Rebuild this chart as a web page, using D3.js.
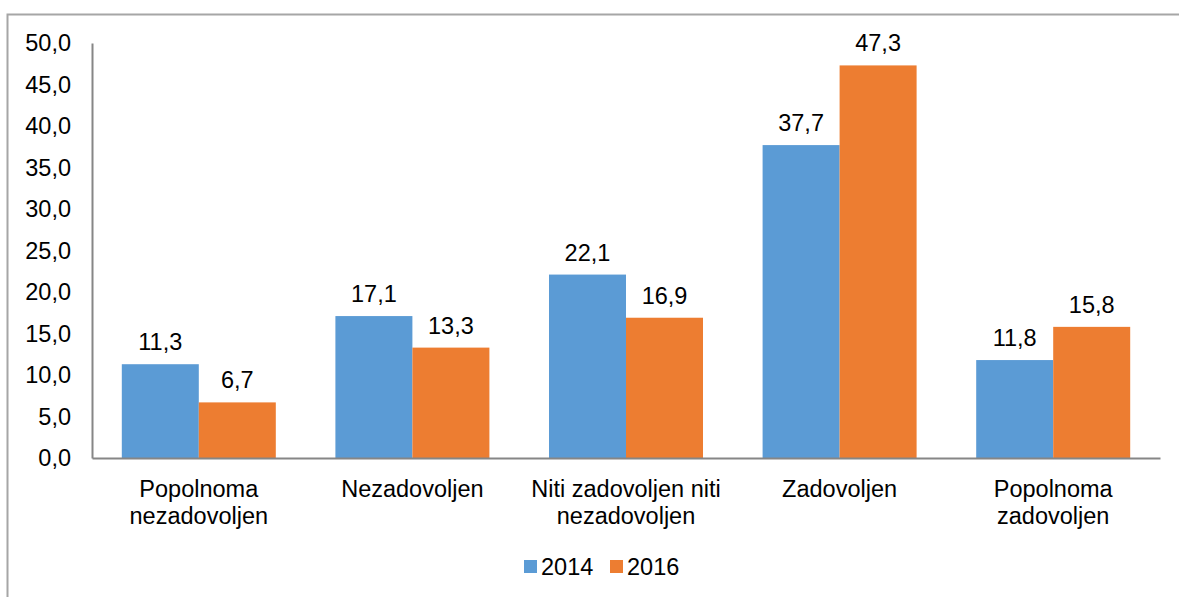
<!DOCTYPE html>
<html><head><meta charset="utf-8">
<script src="https://cdn.jsdelivr.net/npm/d3@7"></script>
<style>body{margin:0;background:#fff}svg{display:block;font-family:"Liberation Sans",Arial,sans-serif}</style>
</head><body>
<svg id="c" width="1179" height="597"></svg>
<script>
const categories = [["Popolnoma","nezadovoljen"],["Nezadovoljen"],["Niti zadovoljen niti","nezadovoljen"],["Zadovoljen"],["Popolnoma","zadovoljen"]];
const series2014 = [11.3, 17.1, 22.1, 37.7, 11.8];
const series2016 = [6.7, 13.3, 16.9, 47.3, 15.8];
const seriesNames = ["2014","2016"];
const colors = ["#5b9bd5","#ed7d31"];
const yTicks = [0,5,10,15,20,25,30,35,40,45,50];

const svg = d3.select("#c");
const fmt = v => v.toFixed(1).replace(".", ",");
const FS = 23.5;
// border
svg.append("path").attr("d","M7.5,597 L7.5,14.5 L1179,14.5").attr("fill","none").attr("stroke","#a6a6a6").attr("stroke-width",2);

const L=92, R=1160, T=43, B=458;
const x = d3.scaleBand().domain(d3.range(categories.length)).range([L,R]).paddingInner(0).paddingOuter(0);
const y = d3.scaleLinear().domain([0,50]).range([B,T]);
const inner = d3.scaleBand().domain([0,1]).range([0, x.bandwidth()]).paddingOuter(0.387).paddingInner(0);

const data = [series2014, series2016];
data.forEach((s,si)=>{
  svg.append("g").selectAll("rect").data(s).join("rect")
    .attr("x",(d,i)=>x(i)+inner(si)).attr("width",inner.bandwidth())
    .attr("y",d=>y(d)).attr("height",d=>y(0)-y(d)).attr("fill",colors[si]);
  svg.append("g").selectAll("text").data(s).join("text")
    .attr("x",(d,i)=>x(i)+inner(si)+inner.bandwidth()/2).attr("y",d=>y(d)-14)
    .attr("text-anchor","middle").attr("font-size",FS).attr("fill","#000").text(fmt);
});

// y axis
const yAxis = svg.append("g").attr("transform",`translate(${L},0)`).call(d3.axisLeft(y).tickValues(yTicks).tickFormat(fmt).tickSize(0).tickPadding(21));
yAxis.select(".domain").attr("stroke","#868686").attr("stroke-width",2);
yAxis.selectAll("text").attr("font-size",FS).attr("fill","#000").attr("font-family","Liberation Sans, Arial, sans-serif");

// x axis
const xAxis = svg.append("g").attr("transform",`translate(0,${B})`).call(d3.axisBottom(x).tickSize(0).tickFormat(""));
xAxis.select(".domain").attr("stroke","#868686").attr("stroke-width",2);
categories.forEach((lines,i)=>{
  const t = svg.append("text").attr("x",x(i)+x.bandwidth()/2).attr("y",497).attr("text-anchor","middle").attr("font-size",FS).attr("fill","#000");
  lines.forEach((ln,j)=>t.append("tspan").attr("x",x(i)+x.bandwidth()/2).attr("dy",j?27:0).text(ln));
});

// legend
const lg = svg.append("g");
const lx = [524, 610];
seriesNames.forEach((n,i)=>{
  lg.append("rect").attr("x",lx[i]).attr("y",560).attr("width",13).attr("height",13).attr("fill",colors[i]);
  lg.append("text").attr("x",lx[i]+17).attr("y",575).attr("font-size",FS).attr("fill","#000").text(n);
});
</script>
</body></html>
